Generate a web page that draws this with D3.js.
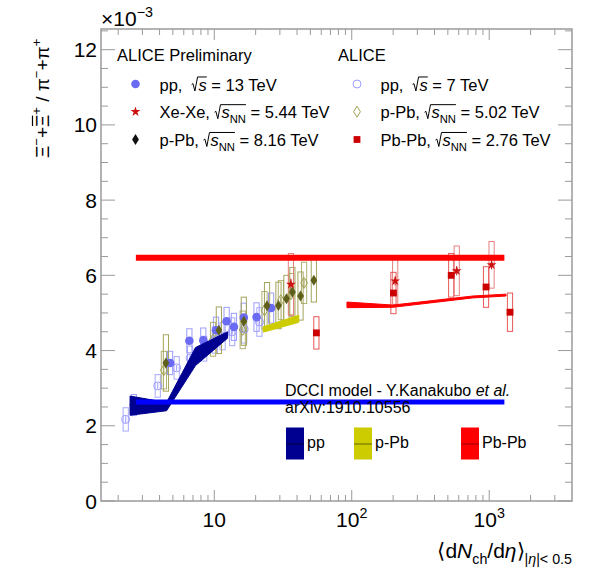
<!DOCTYPE html>
<html>
<head>
<meta charset="utf-8">
<script src="https://cdn.jsdelivr.net/npm/d3@7"></script>
<style>
body{margin:0;background:#fff}
svg{display:block}
text{font-family:"Liberation Sans",Arial,Helvetica,sans-serif;fill:#000;white-space:pre}
</style>
</head>
<body>
<svg id="chart"></svg>
<script>
// ---- data (ratio values in units of 1e-3) ----
var pp7Mult  = [2.27, 3.88, 5.33, 6.67, 8.45, 10.1, 11.5, 13.5, 16.5, 21.3];
var pp7Ratio = [2.17, 3.06, 3.54, 3.80, 4.05, 4.28, 4.38, 4.50, 4.57, 4.76];
var pp7Sys   = [0.31, 0.30, 0.30, 0.32, 0.33, 0.35, 0.36, 0.37, 0.37, 0.38];
var pp7Stat  = [0.10, 0.08, 0.08, 0.08, 0.08, 0.08, 0.08, 0.08, 0.08, 0.09];

var pp13Mult  = [2.6, 4.77, 6.59, 8.32, 10.3, 12.3, 13.9, 16.4, 20.3, 25.9];
var pp13Ratio = [2.55, 3.67, 4.26, 4.27, 4.54, 4.78, 4.63, 4.88, 4.89, 5.13];
var pp13Sys   = [0.28, 0.31, 0.32, 0.33, 0.35, 0.37, 0.36, 0.38, 0.38, 0.40];
var pp13Stat  = [0.05, 0.05, 0.05, 0.05, 0.05, 0.05, 0.05, 0.05, 0.05, 0.06];

var pPb502Mult  = [4.3, 9.8, 16.1, 23.2, 30.5, 36.2, 45.0];
var pPb502Ratio = [3.48, 4.30, 4.55, 5.07, 5.34, 5.50, 5.80];
var pPb502Sys   = [0.50, 0.45, 0.50, 0.50, 0.52, 0.55, 0.55];
var pPb502Stat  = [0.10, 0.08, 0.08, 0.08, 0.08, 0.09, 0.10];

var pPb816Mult  = [4.45, 10.8, 16.4, 24.2, 29.3, 33.5, 37.0, 42.4, 53.0];
var pPb816Ratio = [3.67, 4.54, 4.78, 5.19, 5.20, 5.38, 5.56, 5.45, 5.87];
var pPb816Sys   = [0.75, 0.62, 0.64, 0.62, 0.62, 0.62, 0.65, 0.64, 0.58];
var pPb816Stat  = [0.08, 0.06, 0.06, 0.06, 0.06, 0.06, 0.06, 0.06, 0.07];

var xexeMult  = [36.1, 207, 580, 1040];
var xexeRatio = [5.76, 5.85, 6.12, 6.28];
var xexeSys   = [0.82, 0.62, 0.66, 0.62];
var xexeStat  = [0.15, 0.12, 0.12, 0.12];

var pbpbMult  = [55.3, 201, 529, 948, 1416];
var pbpbRatio = [4.47, 5.53, 6.00, 5.69, 5.02];
var pbpbSys   = [0.43, 0.55, 0.58, 0.54, 0.51];
var pbpbStat  = [0.08, 0.07, 0.07, 0.07, 0.08];

// DCCI model bands
var dcciPPMult = [2.44, 4.5, 7.3, 12.5];
var dcciPPLo   = [2.28, 2.40, 3.60, 4.33];
var dcciPPHi   = [2.79, 2.62, 4.08, 4.50];

var dcciPPbMult = [22.7, 41.2];
var dcciPPbLo   = [4.49, 4.75];
var dcciPPbHi   = [4.63, 4.94];

var dcciPbPbMult = [92.3, 199, 759, 1324];
var dcciPbPbLo   = [5.14, 5.15, 5.40, 5.45];
var dcciPbPbHi   = [5.29, 5.21, 5.45, 5.50];

// horizontal reference levels
var levelMult = [2.69, 1289];
var redLevel = 6.47;
var blueLevel = 2.63;

var yTicks = [0, 2, 4, 6, 8, 10, 12];
var xMajor = [10, 100, 1000];

// ---- setup ----
var W = 590, H = 577;
var svg = d3.select('#chart').attr('width', W).attr('height', H);
var x = d3.scaleLog().domain([1.5, 4000]).range([101, 572]);
var y = d3.scaleLinear().domain([0, 12.55]).range([501, 29]);
var frameCol = '#9a9a9a';

function zip(m, r, s, t) {
    return m.map(function(v, i) { return {x: v, y: r[i], s: s[i], t: t[i]}; });
}

// rich text: runs laid out one after another, returns width
function rich(parent, x0, y0, runs, fs) {
    var g = parent.append('g');
    var cx = x0, radX = null, overEnd = null;
    runs.forEach(function(r) {
        if (r.rad) { radX = cx; cx += fs * 0.42; return; }
        var size = (r.sub || r.sup) ? fs * 0.68 : fs;
        var dy = r.sub ? fs * 0.28 : (r.sup ? -fs * 0.42 : 0);
        var t = g.append('text').attr('x', cx).attr('y', y0 + dy)
            .attr('font-size', size).text(r.t);
        if (r.it) t.attr('font-style', 'italic');
        cx += t.node().getComputedTextLength() + (r.gap || 0);
        if (r.over) overEnd = cx;
    });
    if (radX !== null) {
        var top = y0 - fs * 0.82;
        g.append('path')
            .attr('d', 'M' + radX + ',' + (y0 - fs * 0.36) + 'L' + (radX + fs * 0.08) + ',' + (y0 - fs * 0.42) +
                'L' + (radX + fs * 0.2) + ',' + (y0 + fs * 0.03) + 'L' + (radX + fs * 0.36) + ',' + top +
                'L' + (overEnd || radX + fs * 0.8) + ',' + top)
            .attr('fill', 'none').attr('stroke', '#000').attr('stroke-width', 1);
    }
    return {g: g, w: cx - x0};
}

// ---- axes ----
var minorX = [];
[1, 10, 100, 1000].forEach(function(d) {
    for (var k = 2; k <= 9; k++) { var v = d * k; if (v > 1.5 && v < 4000) minorX.push(v); }
});
var minorY = d3.range(0, 12.55, 0.5).filter(function(v) { return v % 2 !== 0; });

function tickLines(axis, vals, len) {
    var g = svg.append('g');
    if (axis === 'x') {
        vals.forEach(function(v) {
            g.append('line').attr('x1', x(v)).attr('x2', x(v)).attr('y1', 501).attr('y2', 501 - len);
            g.append('line').attr('x1', x(v)).attr('x2', x(v)).attr('y1', 29).attr('y2', 29 + len);
        });
    } else {
        vals.forEach(function(v) {
            g.append('line').attr('y1', y(v)).attr('y2', y(v)).attr('x1', 101).attr('x2', 101 + len);
            g.append('line').attr('y1', y(v)).attr('y2', y(v)).attr('x1', 572).attr('x2', 572 - len);
        });
    }
    g.selectAll('line').attr('stroke', frameCol).attr('stroke-width', 1);
}
tickLines('x', xMajor, 11);
tickLines('x', minorX, 6);
tickLines('y', yTicks, 14);
tickLines('y', minorY, 7);

svg.append('g').selectAll('text').data(yTicks).enter().append('text')
    .attr('x', 97).attr('y', function(d) { return y(d); }).attr('dy', '0.36em')
    .attr('text-anchor', 'end').attr('font-size', 21).text(function(d) { return d; });

var xl = svg.append('g');
xl.append('text').attr('x', x(10)).attr('y', 527).attr('text-anchor', 'middle').attr('font-size', 21).text('10');
[[100, '2'], [1000, '3']].forEach(function(p) {
    var r = rich(xl, 0, 527, [{t: '10'}, {t: p[1], sup: true}], 21);
    r.g.attr('transform', 'translate(' + (x(p[0]) - r.w / 2) + ',0)');
});

// ---- data points ----
var data = {
    pp7: zip(pp7Mult, pp7Ratio, pp7Sys, pp7Stat),
    pp13: zip(pp13Mult, pp13Ratio, pp13Sys, pp13Stat),
    p502: zip(pPb502Mult, pPb502Ratio, pPb502Sys, pPb502Stat),
    p816: zip(pPb816Mult, pPb816Ratio, pPb816Sys, pPb816Stat),
    xexe: zip(xexeMult, xexeRatio, xexeSys, xexeStat),
    pbpb: zip(pbpbMult, pbpbRatio, pbpbSys, pbpbStat)
};
var styles = {
    pp7:  {box: '#a8a8ff', col: '#9c9cff'},
    pp13: {box: '#9c9cff', col: '#6a6af2'},
    p502: {box: '#b0b070', col: '#a0a050'},
    p816: {box: '#a4a45c', col: '#5f5f1c'},
    xexe: {box: '#e88080', col: '#cc1010'},
    pbpb: {box: '#e85858', col: '#cc0000'}
};
var order = ['pp7', 'pp13', 'p502', 'p816', 'xexe', 'pbpb'];

var dg = svg.append('g');
order.forEach(function(k) {
    var g = dg.append('g');
    g.selectAll('rect').data(data[k]).enter().append('rect')
        .attr('x', function(d) { return x(d.x) - 2.6; }).attr('width', 5.2)
        .attr('y', function(d) { return y(d.y + d.s); })
        .attr('height', function(d) { return y(d.y - d.s) - y(d.y + d.s); })
        .attr('fill', 'none').attr('stroke', styles[k].box).attr('stroke-width', 1);
    g.selectAll('line').data(data[k]).enter().append('line')
        .attr('x1', function(d) { return x(d.x); }).attr('x2', function(d) { return x(d.x); })
        .attr('y1', function(d) { return y(d.y + d.t); }).attr('y2', function(d) { return y(d.y - d.t); })
        .attr('stroke', styles[k].col).attr('stroke-width', 1);
});

var diamond = 'M0,-5.5L3.4,0L0,5.5L-3.4,0Z';
var star = d3.symbol().type(d3.symbolStar).size(30)();
function marker(g, k, cx, cy, legend) {
    var c = styles[k].col;
    if (k === 'pp7') g.append('circle').attr('cx', cx).attr('cy', cy).attr('r', 4).attr('fill', 'none').attr('stroke', c).attr('stroke-width', 1);
    if (k === 'pp13') g.append('circle').attr('cx', cx).attr('cy', cy).attr('r', 4.3).attr('fill', c);
    if (k === 'p502') g.append('path').attr('d', diamond).attr('transform', 'translate(' + cx + ',' + cy + ')').attr('fill', 'none').attr('stroke', c).attr('stroke-width', 1);
    if (k === 'p816') g.append('path').attr('d', diamond).attr('transform', 'translate(' + cx + ',' + cy + ')').attr('fill', legend ? '#111' : c);
    if (k === 'xexe') g.append('path').attr('d', star).attr('transform', 'translate(' + cx + ',' + cy + ')').attr('fill', c);
    if (k === 'pbpb') g.append('rect').attr('x', cx - 3.4).attr('y', cy - 3.4).attr('width', 6.8).attr('height', 6.8).attr('fill', c);
}
order.forEach(function(k) {
    var g = dg.append('g');
    data[k].forEach(function(d) { marker(g, k, x(d.x), y(d.y), false); });
});

// ---- model bands ----
function band(m, lo, hi, col) {
    var pts = m.map(function(v, i) { return {x: v, lo: lo[i], hi: hi[i]}; });
    svg.append('path').datum(pts)
        .attr('d', d3.area().x(function(d) { return x(d.x); })
            .y0(function(d) { return y(d.lo); }).y1(function(d) { return y(d.hi); }))
        .attr('fill', col).attr('stroke', col).attr('stroke-width', 1);
}
band(dcciPPMult, dcciPPLo, dcciPPHi, '#000090');
band(dcciPPbMult, dcciPPbLo, dcciPPbHi, '#cccc00');
band(dcciPbPbMult, dcciPbPbLo, dcciPbPbHi, '#ff0000');

// horizontal levels
svg.append('line').attr('x1', x(levelMult[0])).attr('x2', x(levelMult[1]))
    .attr('y1', y(redLevel)).attr('y2', y(redLevel)).attr('stroke', '#ff0000').attr('stroke-width', 6);
svg.append('line').attr('x1', x(levelMult[0])).attr('x2', x(levelMult[1]))
    .attr('y1', y(blueLevel)).attr('y2', y(blueLevel)).attr('stroke', '#0000ff').attr('stroke-width', 5);

// frame
svg.append('rect').attr('x', 101).attr('y', 29).attr('width', 471).attr('height', 472)
    .attr('fill', 'none').attr('stroke', frameCol).attr('stroke-width', 1.5);

// ---- legend ----
var lg = svg.append('g');
var fs = 16.5;
lg.append('text').attr('x', 117).attr('y', 61).attr('font-size', fs).text('ALICE Preliminary');
lg.append('text').attr('x', 338).attr('y', 61).attr('font-size', fs).text('ALICE');
var leftRows = [
    {k: 'pp13', y: 90.5, runs: [{t: 'pp,  '}, {rad: true}, {t: 's', it: true, over: true}, {t: ' = 13 TeV'}]},
    {k: 'xexe', y: 118.2, runs: [{t: 'Xe-Xe, '}, {rad: true}, {t: 's', it: true, over: true}, {t: 'NN', sub: true, over: true}, {t: ' = 5.44 TeV'}]},
    {k: 'p816', y: 146, runs: [{t: 'p-Pb, '}, {rad: true}, {t: 's', it: true, over: true}, {t: 'NN', sub: true, over: true}, {t: ' = 8.16 TeV'}]}
];
var rightRows = [
    {k: 'pp7', y: 90.5, runs: [{t: 'pp,  '}, {rad: true}, {t: 's', it: true, over: true}, {t: ' = 7 TeV'}]},
    {k: 'p502', y: 118.2, runs: [{t: 'p-Pb, '}, {rad: true}, {t: 's', it: true, over: true}, {t: 'NN', sub: true, over: true}, {t: ' = 5.02 TeV'}]},
    {k: 'pbpb', y: 146, runs: [{t: 'Pb-Pb, '}, {rad: true}, {t: 's', it: true, over: true}, {t: 'NN', sub: true, over: true}, {t: ' = 2.76 TeV'}]}
];
leftRows.forEach(function(r) { marker(lg, r.k, 135.5, r.y - 6.5, true); rich(lg, 159.5, r.y, r.runs, fs); });
rightRows.forEach(function(r) { marker(lg, r.k, 357, r.y - 6.5, true); rich(lg, 380.5, r.y, r.runs, fs); });

// model legend
var mg = svg.append('g');
mg.append('text').attr('x', 285).attr('y', 396).attr('font-size', 16).text('DCCI model - Y.Kanakubo ')
    .append('tspan').attr('font-style', 'italic').text('et al.');
mg.append('text').attr('x', 285).attr('y', 413).attr('font-size', 16).text('arXiv:1910.10556');
var modelKeys = [
    {x: 286, col: '#000090', line: '#000040', label: 'pp'},
    {x: 354, col: '#cccc00', line: '#666600', label: 'p-Pb'},
    {x: 461, col: '#ff0000', line: '#990000', label: 'Pb-Pb'}
];
modelKeys.forEach(function(m) {
    mg.append('rect').attr('x', m.x).attr('y', 427.5).attr('width', 18).attr('height', 32).attr('fill', m.col);
    mg.append('line').attr('x1', m.x).attr('x2', m.x + 18).attr('y1', 444).attr('y2', 444).attr('stroke', m.line).attr('stroke-width', 1);
    mg.append('text').attr('x', m.x + 21).attr('y', 448).attr('font-size', 16).text(m.label);
});

// ---- axis titles ----
rich(svg, 101, 26, [{t: '\u00d710'}, {t: '\u22123', sup: true}], 21);

var xt = rich(svg, 0, 558, [{t: '\u27e8d'}, {t: 'N', it: true}, {t: 'ch', sub: true}, {t: '/d'}, {t: '\u03b7', it: true},
    {t: '\u27e9'}, {t: '|', sub: true}, {t: '\u03b7', it: true, sub: true}, {t: '|< 0.5', sub: true}], 21);
xt.g.attr('transform', 'translate(' + (572 - xt.w) + ',0)');

var yg = svg.append('g').attr('transform', 'translate(49,158) rotate(-90)');
var yt = rich(yg, 0, 0, [{t: '\u039e'}, {t: '\u2212', sup: true}, {t: '+'}, {t: '\u039e'}, {t: '+', sup: true}, {t: ' / '},
    {t: '\u03c0'}, {t: '\u2212', sup: true}, {t: '+'}, {t: '\u03c0'}, {t: '+', sup: true}], 19);
// bar over the anti-Xi
(function() {
    var texts = yt.g.selectAll('text').nodes();
    var xi = texts[3];
    var bx = +xi.getAttribute('x'), bw = xi.getComputedTextLength();
    yt.g.append('line').attr('x1', bx + 1).attr('x2', bx + bw - 1).attr('y1', -16.5).attr('y2', -16.5)
        .attr('stroke', '#000').attr('stroke-width', 1.2);
})();
</script>
</body>
</html>
